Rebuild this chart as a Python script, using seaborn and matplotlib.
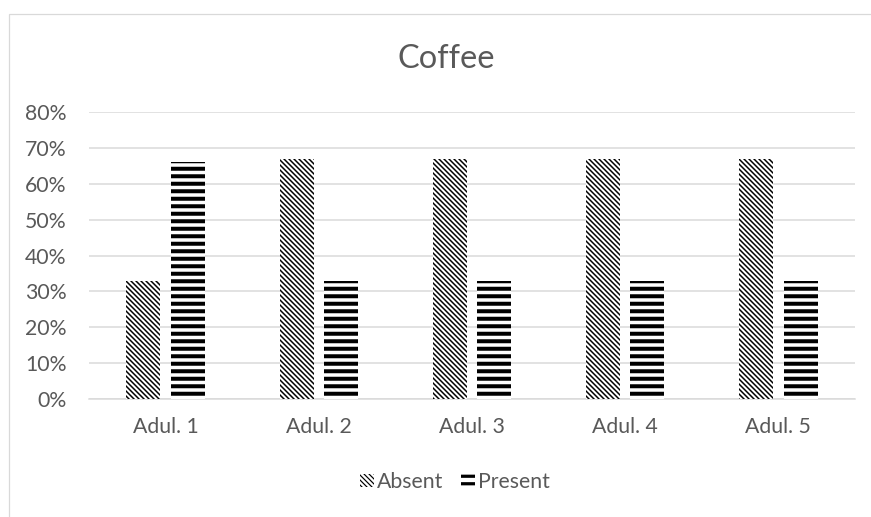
import matplotlib
matplotlib.use("Agg")
import matplotlib.pyplot as plt
import pandas as pd
import seaborn as sns
from matplotlib.patches import Patch, Rectangle

# Share of samples per adulterant, coffee series
categories = ["Adul. 1", "Adul. 2", "Adul. 3", "Adul. 4", "Adul. 5"]
absent = [0.33, 0.67, 0.67, 0.67, 0.67]
present = [0.66, 0.33, 0.33, 0.33, 0.33]
series = ["Absent", "Present"]
y_ticks = [0.0, 0.1, 0.2, 0.3, 0.4, 0.5, 0.6, 0.7, 0.8]
y_tick_labels = ["0%", "10%", "20%", "30%", "40%", "50%", "60%", "70%", "80%"]
title = "Coffee"

hatches = {"Absent": "\\" * 6, "Present": "--"}
hatch_widths = {"Absent": 1.2, "Present": 3.2}

df = pd.DataFrame({
    "Adulterant": categories * 2,
    "Series": [series[0]] * len(categories) + [series[1]] * len(categories),
    "Share": absent + present,
})

sns.set_theme(style="white")
plt.rcParams["font.family"] = ["Lato", "DejaVu Sans"]
plt.rcParams["hatch.color"] = "black"

TEXT = "#595959"
GRID = "#d9d9d9"
DPI = 90
W, H = 872, 517
fig = plt.figure(figsize=(W / DPI, H / DPI), dpi=DPI)

# chart frame
fig.patches.append(Rectangle((9 / W, -0.1), 1.2, 1 - 14 / H + 0.1,
                             transform=fig.transFigure, fill=False,
                             edgecolor=GRID, linewidth=1.0))

ax = fig.add_axes([89 / W, (H - 399) / H, 766 / W, (399 - 112) / H])

sns.barplot(data=df, x="Adulterant", y="Share", hue="Series",
            hue_order=series, order=categories, palette=["white", "white"],
            width=0.58, gap=0.235, errorbar=None, legend=False, ax=ax,
            edgecolor="black", linewidth=0, zorder=3)

for name, container in zip(series, ax.containers):
    for bar in container:
        bar.set_hatch(hatches[name])
        bar.set_edgecolor("black")
        bar.set_linewidth(0)
        if hasattr(bar, "set_hatch_linewidth"):
            bar.set_hatch_linewidth(hatch_widths[name])

ax.set_ylim(0, 0.8)
ax.set_yticks(y_ticks)
ax.set_yticklabels(y_tick_labels)
ax.yaxis.grid(True, color=GRID, linewidth=1.2, zorder=0)
ax.set_axisbelow(True)
for side in ["left", "right", "top"]:
    ax.spines[side].set_visible(False)
ax.spines["bottom"].set_color(GRID)
ax.spines["bottom"].set_linewidth(1.2)
ax.tick_params(axis="both", length=0, labelsize=17, colors=TEXT)
ax.tick_params(axis="y", pad=18)
ax.tick_params(axis="x", pad=14.5)
ax.set_xlabel("")
ax.set_ylabel("")

fig.text(446 / W, 1 - 59 / H, title, ha="center", va="center",
         fontsize=26, color=TEXT)

handles = [Patch(facecolor="white", edgecolor="black", linewidth=0,
                 hatch=hatches[s], label=s) for s in series]
leg = fig.legend(handles=handles, loc="center", ncol=2,
                 bbox_to_anchor=(455 / W, 1 - 482 / H), frameon=False,
                 fontsize=17, handlelength=0.65, handleheight=0.6,
                 handletextpad=0.15, columnspacing=0.85)
for t in leg.get_texts():
    t.set_color(TEXT)
for h, s in zip(leg.legend_handles, series):
    if hasattr(h, "set_hatch_linewidth"):
        h.set_hatch_linewidth(hatch_widths[s] * 0.8)

fig.savefig("out.png", dpi=DPI)
